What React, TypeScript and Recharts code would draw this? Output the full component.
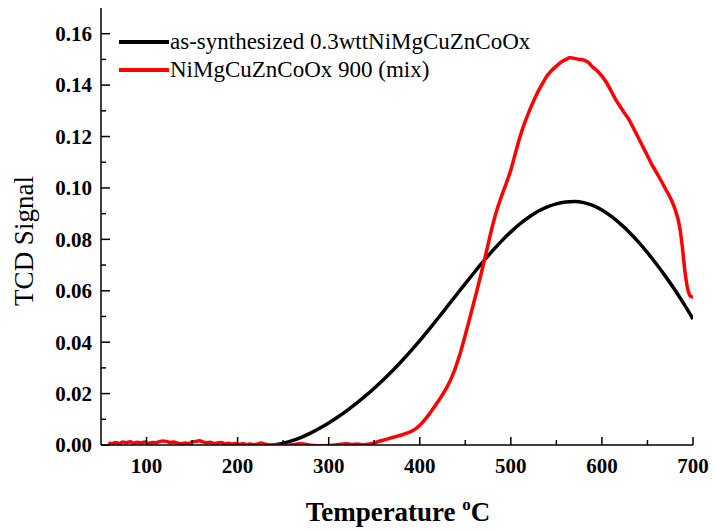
import { LineChart, Line, XAxis, YAxis, Legend } from 'recharts';

const FONT = '"Liberation Serif", "Times New Roman", serif';

// temperature (°C) for the as-synthesized sample
const blackTemps = [
  238, 240, 250, 260, 270, 280, 290, 300, 310, 320, 330, 340, 350, 360, 370, 380, 390,
  400, 410, 420, 430, 440, 450, 460, 470, 480, 490, 500, 510, 520, 530, 540, 550, 560,
  570, 580, 590, 600, 610, 620, 630, 640, 650, 660, 670, 680, 690, 700,
];
const blackSignal = [
  0, 0.0001, 0.0007, 0.0017, 0.003, 0.0046, 0.0065, 0.0086, 0.0109, 0.0134, 0.0161, 0.019,
  0.0221, 0.0254, 0.0289, 0.0326, 0.0365, 0.0406, 0.0449, 0.0493, 0.0538, 0.0583, 0.0628,
  0.0672, 0.0715, 0.0756, 0.0794, 0.0829, 0.086, 0.0887, 0.0909, 0.0926, 0.0938, 0.0945,
  0.0947, 0.0943, 0.0932, 0.0914, 0.089, 0.0861, 0.0828, 0.079, 0.0748, 0.0703, 0.0655,
  0.0604, 0.0549, 0.049,
];

// temperature (°C) for NiMgCuZnCoOx 900 (mix)
const redTemps = [
  58, 62, 66, 70, 74, 78, 82, 86, 90, 94, 98, 102, 106, 110, 114, 118, 122, 126, 130, 134,
  138, 142, 146, 150, 154, 158, 162, 166, 170, 174, 178, 182, 186, 190, 194, 198, 202, 206,
  210, 214, 218, 222, 226, 230, 236, 242, 250, 258, 264, 270, 276, 284, 292, 300, 308, 314,
  320, 326, 332, 338, 344, 350, 355, 360, 365, 370, 375, 380, 385, 390, 395, 400, 405, 410,
  415, 420, 425, 430, 435, 440, 445, 450, 455, 460, 465, 470, 475, 480, 485, 490, 495, 500,
  505, 510, 515, 520, 525, 530, 535, 540, 545, 550, 555, 560, 565, 570, 575, 580, 585, 590,
  595, 600, 605, 610, 615, 620, 625, 630, 635, 640, 645, 650, 655, 660, 665, 670, 675, 680,
  685, 688, 691, 694, 697, 700,
];
const redSignal = [
  0.0008, 0.0005, 0.001, 0.0006, 0.0012, 0.0009, 0.0013, 0.0007, 0.0011, 0.0008, 0.0012,
  0.0006, 0.001, 0.0009, 0.0013, 0.0016, 0.0014, 0.001, 0.0012, 0.0007, 0.0005, 0.0008,
  0.0006, 0.0011, 0.0014, 0.0017, 0.0012, 0.0009, 0.0011, 0.0006, 0.0008, 0.001, 0.0005,
  0.0007, 0.0004, 0.0006, 0.0003, 0.0005, 0.0002, 0.0004, 0.0001, 0.0004, 0.0008, 0.0003,
  0.0001, 0, -0.0002, 0, 0.0003, 0.0005, 0.0002, -0.0002, -0.0003, -0.0002, 0, 0.0003,
  0.0005, 0.0002, 0.0004, 0.0001, 0.0003, 0.0008, 0.0014, 0.0019, 0.0024, 0.0029, 0.0034,
  0.0039, 0.0045, 0.0052, 0.0062, 0.0077, 0.0096, 0.0118, 0.0143, 0.0169, 0.0196, 0.0226,
  0.0263, 0.0309, 0.0364, 0.0428, 0.0495, 0.0563, 0.0632, 0.0705, 0.078, 0.0855, 0.0918,
  0.097, 0.1018, 0.107, 0.1135, 0.1198, 0.1252, 0.1297, 0.1338, 0.1376, 0.1408, 0.1437,
  0.1458, 0.1474, 0.1489, 0.1499, 0.1506, 0.1504, 0.15, 0.1498, 0.1488, 0.147, 0.1455,
  0.1435, 0.141, 0.1378, 0.1345, 0.1317, 0.129, 0.1264, 0.123, 0.1195, 0.116, 0.1125,
  0.109, 0.106, 0.1028, 0.0995, 0.0963, 0.092, 0.0855, 0.078, 0.068, 0.061, 0.058, 0.0575,
];

const xMajorTicks = [100, 200, 300, 400, 500, 600, 700];
const xMinorTicks = [150, 250, 350, 450, 550, 650];
const yMajorTicks = [0, 0.02, 0.04, 0.06, 0.08, 0.1, 0.12, 0.14, 0.16];
const yMinorTicks = [0.01, 0.03, 0.05, 0.07, 0.09, 0.11, 0.13, 0.15];

const seriesNames = ['as-synthesized 0.3wttNiMgCuZnCoOx', 'NiMgCuZnCoOx 900 (mix)'];
const seriesColors = ['#000000', '#ff0000'];

const blackData = blackTemps.map((t, i) => ({ t, v: blackSignal[i] }));
const redData = redTemps.map((t, i) => ({ t, v: redSignal[i] }));

const xTicks = [...xMajorTicks, ...xMinorTicks].sort((a, b) => a - b);
const yTicks = [...yMajorTicks, ...yMinorTicks].sort((a, b) => a - b);

const isMajor = (list: number[], v: number) => list.some((m) => Math.abs(m - v) < 1e-9);

function XTick(props: any) {
  const { x, y, payload } = props;
  const major = isMajor(xMajorTicks, payload.value);
  return (
    <g>
      <line x1={x} x2={x} y1={y} y2={y - (major ? 8 : 5)} stroke="#000" strokeWidth={1.5} />
      {major && (
        <text x={x} y={y + 28} textAnchor="middle" fontFamily={FONT} fontWeight="bold" fontSize={21} fill="#000">
          {payload.value}
        </text>
      )}
    </g>
  );
}

function YTick(props: any) {
  const { x, y, payload } = props;
  const major = isMajor(yMajorTicks, payload.value);
  return (
    <g>
      <line x1={x} x2={x + (major ? 9 : 5)} y1={y} y2={y} stroke="#000" strokeWidth={1.5} />
      {major && (
        <text x={x - 9} y={y} dy="0.35em" textAnchor="end" fontFamily={FONT} fontWeight="bold" fontSize={21} fill="#000">
          {payload.value.toFixed(2)}
        </text>
      )}
    </g>
  );
}

function LegendBox() {
  return (
    <div style={{ fontFamily: FONT, fontSize: 23, color: '#000' }}>
      {seriesNames.map((name, i) => (
        <div key={name} style={{ display: 'flex', alignItems: 'center', height: 28, whiteSpace: 'nowrap' }}>
          <svg width={52} height={28}>
            <line x1={1} x2={51} y1={14} y2={14} stroke={seriesColors[i]} strokeWidth={4} />
          </svg>
          <span style={{ lineHeight: '28px' }}>{name}</span>
        </div>
      ))}
    </div>
  );
}

export default function App() {
  return (
    <div style={{ position: 'absolute', left: 0, top: 0, width: 713, height: 531, background: '#fff' }}>
      <LineChart width={713} height={531} margin={{ top: 8, right: 20, left: 0, bottom: 0 }}>
        <XAxis
          dataKey="t"
          type="number"
          domain={[50, 700]}
          ticks={xTicks}
          interval={0}
          allowDataOverflow
          height={86}
          tickSize={0}
          tickMargin={0}
          tick={<XTick />}
          axisLine={{ stroke: '#000', strokeWidth: 1.5 }}
          label={{
            content: () => (
              <text x={398} y={521} textAnchor="middle" fontFamily={FONT} fontWeight="bold" fontSize={27} fill="#000">
                Temperature <tspan dy={-11} fontSize={17}>o</tspan><tspan dy={11}>C</tspan>
              </text>
            ),
          }}
        />
        <XAxis xAxisId="top" orientation="top" type="number" domain={[50, 700]} height={0} tick={false} tickLine={false} axisLine={{ stroke: '#222', strokeWidth: 1.5 }} />
        <YAxis
          type="number"
          domain={[0, 0.17]}
          ticks={yTicks}
          interval={0}
          allowDataOverflow
          width={101}
          tickSize={0}
          tickMargin={0}
          tick={<YTick />}
          axisLine={{ stroke: '#000', strokeWidth: 1.5 }}
          label={{
            content: () => (
              <text x={33} y={241} transform="rotate(-90 33 241)" textAnchor="middle" fontFamily={FONT} fontSize={27} fill="#000">
                TCD Signal
              </text>
            ),
          }}
        />
        <YAxis yAxisId="right" orientation="right" domain={[0, 0.17]} width={0} tick={false} tickLine={false} axisLine={{ stroke: '#222', strokeWidth: 1.5 }} />
        <Legend
          layout="vertical"
          align="center"
          verticalAlign="middle"
          content={<LegendBox />}
          wrapperStyle={{ top: 28, left: 118, width: 'auto' }}
        />
        <Line
          data={blackData}
          dataKey="v"
          type="monotone"
          stroke={seriesColors[0]}
          strokeWidth={3.5}
          dot={false}
          isAnimationActive={false}
        />
        <Line
          data={redData}
          dataKey="v"
          type="monotone"
          stroke={seriesColors[1]}
          strokeWidth={3.5}
          dot={false}
          isAnimationActive={false}
        />
      </LineChart>
    </div>
  );
}
